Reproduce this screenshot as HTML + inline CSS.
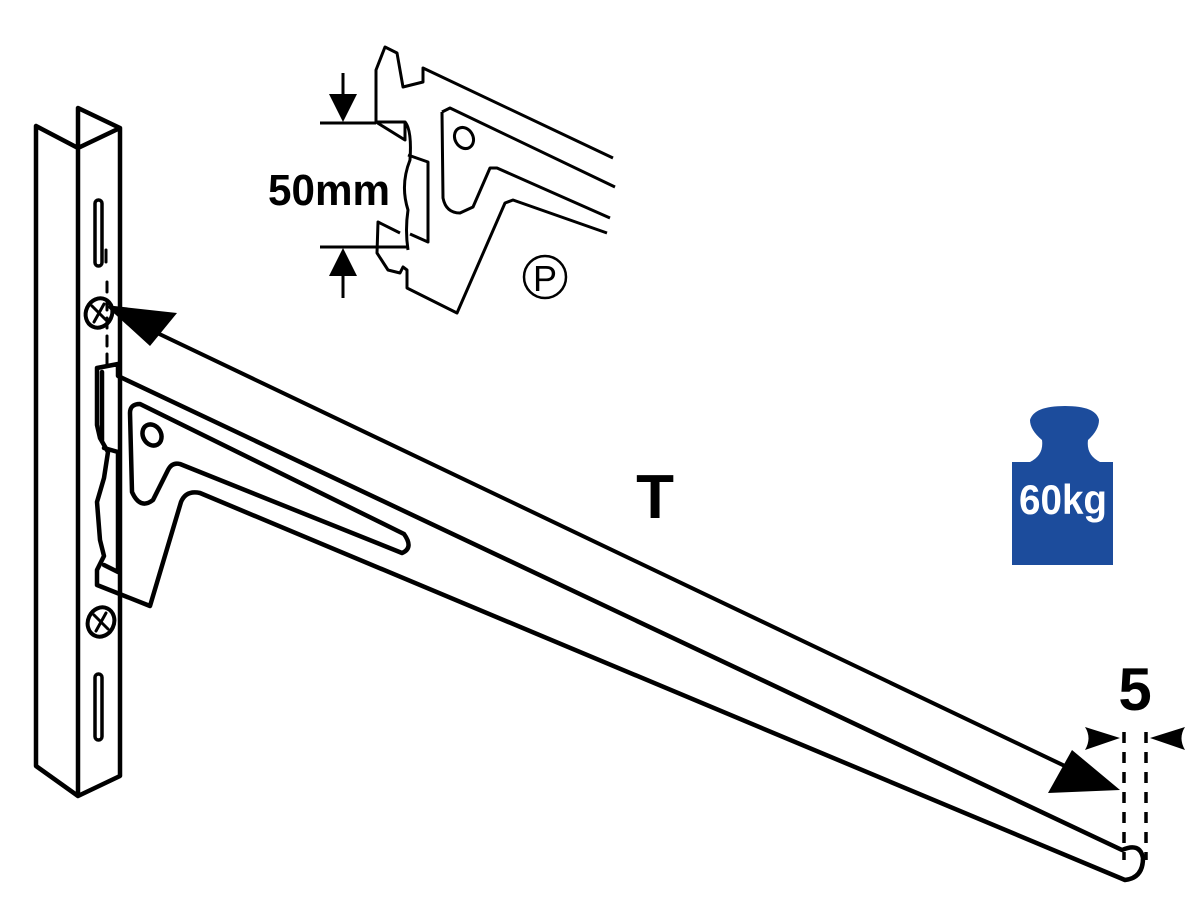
<!DOCTYPE html>
<html><head><meta charset="utf-8"><style>
html,body{margin:0;padding:0;background:#fff;}
svg{display:block;}
text{font-family:"Liberation Sans",sans-serif;font-weight:bold;}
</style></head><body>
<svg width="1200" height="900" viewBox="0 0 1200 900" xmlns="http://www.w3.org/2000/svg">
<g fill="none" stroke="#000" stroke-width="4.5" stroke-linejoin="round" stroke-linecap="round">
<!-- upright -->
<path d="M36,126 L78,148 L120,128 L78,108 L78,796 M36,126 L36,766 L78,796 L120,776 L120,128"/>
<rect x="95" y="200" width="7" height="66" rx="3.5" stroke-width="3.5"/>
<rect x="95" y="674" width="7" height="66" rx="3.5" stroke-width="3.5"/>
<path d="M106,250 L106,262" stroke-width="3"/>
<ellipse cx="99" cy="313" rx="13" ry="15" stroke-width="4" transform="rotate(25 99 313)"/>
<path d="M92,306 L106,320 M104,304 L94,322" stroke-width="3"/>
<ellipse cx="101" cy="622" rx="13" ry="15" stroke-width="4" transform="rotate(25 101 622)"/>
<path d="M94,615 L108,629 M106,613 L96,631" stroke-width="3"/>
<path d="M107,282 L107,372" stroke-dasharray="10,8" stroke-width="3"/>
<!-- bracket -->
<path d="M97,368 L118,364 L118,376 L1122,850 Q1140,842 1143,858 Q1143,878 1125,880 L200,493 Q186,490 181,502 L150,606 L97,585 L97,570 L104,556 L100,540 L97,502 L104,478 L108,452 L100,438 L97,425 Z"/>
<path d="M102,372 L102,440 M104,448 L118,452 L118,572 L104,565"/>
<path d="M130,413 Q130,404 140,404 L404,534 Q414,548 402,553 L180,464 Q172,462 168,470 L153,500 Q140,510 132,492 Z"/>
<ellipse cx="152" cy="435" rx="9" ry="11" transform="rotate(-30 152 435)"/>
<!-- T arrow -->
<path d="M130,320 L1090,778" stroke-width="4"/>
</g>
<path d="M105,305 L177,313 L150,346 Z" fill="#000"/>
<path d="M1120,790 L1048,793 L1072,750 Z" fill="#000"/>
<text x="655" y="518" font-size="62" text-anchor="middle">T</text>
<!-- 5 dims -->
<g stroke="#000" stroke-width="3.5" stroke-dasharray="11,9" fill="none">
<path d="M1124,732 L1124,860"/><path d="M1146,732 L1146,860"/>
</g>
<path d="M1120,738 L1085,727 Q1092,738 1085,750 Z" fill="#000"/>
<path d="M1150,738 L1185,727 Q1178,738 1185,750 Z" fill="#000"/>
<text x="1135" y="710" font-size="60" text-anchor="middle">5</text>
<!-- weight -->
<path d="M1012,462 L1030,462 Q1044,455 1042,440 Q1030,430 1030,420 Q1034,406 1065,406 Q1096,406 1099,420 Q1099,430 1088,440 Q1086,455 1100,462 L1113,462 L1113,565 L1012,565 Z" fill="#1c4c9c"/>
<text x="1063" y="514" font-size="42" fill="#fff" text-anchor="middle" textLength="88" lengthAdjust="spacingAndGlyphs">60kg</text>
<!-- inset -->
<g fill="none" stroke="#000" stroke-width="3" stroke-linejoin="round">
<path d="M376,122 L376,70 L385,47 L397,53 L403,87 L423,82 L423,68 L613,158"/>
<path d="M442,112 L450,108 L615,187"/>
<path d="M442,112 L443,198 Q446,213 460,213 L473,207 L490,168 L497,168 L610,218"/>
<path d="M607,233 L513,200 L505,203 L457,313 L407,288 L407,270 L403,267 L400,273 L388,270 L377,253 L378,222 L400,233"/>
<path d="M376,122 L405,122 L405,140 L376,122"/>
<path d="M405,122 Q412,130 410,160 Q400,185 408,210 Q405,230 408,250"/>
<path d="M408,155 L428,162 L428,242 L410,234"/>
<path d="M320,123 L376,123 M320,247 L408,247"/>
<path d="M343,73 L343,100 M343,270 L343,298"/>
<ellipse cx="464" cy="138" rx="9" ry="11" transform="rotate(-30 464 138)"/>
<circle cx="545" cy="277" r="21" stroke-width="2.5"/>
</g>
<path d="M343,122 L329,94 L357,94 Z" fill="#000"/>
<path d="M343,248 L329,276 L357,276 Z" fill="#000"/>
<text x="545" y="291" font-size="36" style="font-weight:normal" text-anchor="middle">P</text>
<text x="268" y="205" font-size="44" textLength="122" lengthAdjust="spacingAndGlyphs">50mm</text>
</svg>
</body></html>
